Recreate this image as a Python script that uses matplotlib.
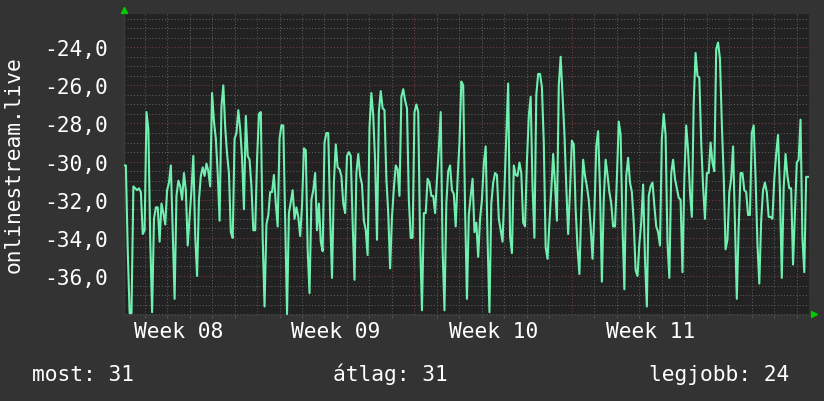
import numpy as np
import matplotlib
matplotlib.use("Agg")
import matplotlib.pyplot as plt
from matplotlib.ticker import FixedLocator, MultipleLocator

# ---- data (signal level, 2-hour samples) ----
signal_db = [
    -30.2, -30.2, -34.7, -37.95, -37.95, -31.3, -31.4, -31.5, -31.4, -31.6,
    -33.8, -33.6, -27.4, -28.3, -34.1, -37.9, -33.0, -32.4, -32.4, -34.2,
    -32.2, -32.7, -33.3, -31.5, -31.1, -30.2, -33.6, -37.2, -31.8, -31.0,
    -31.3, -32.0, -30.6, -31.5, -34.4, -32.9, -31.5, -29.7, -33.9, -36.0,
    -32.0, -30.75, -30.3, -30.75, -30.1, -30.5, -31.3, -26.4, -27.9, -28.8,
    -30.6, -33.1, -27.1, -26.0, -28.2, -29.6, -30.6, -33.7, -34.0, -28.8,
    -28.5, -27.3, -28.3, -29.8, -32.5, -27.6, -29.7, -29.9, -31.3, -33.6,
    # week 09 region
    -33.6, -29.9, -27.5, -27.4, -34.0, -37.6, -33.3, -32.8, -31.6, -31.6,
    -30.7, -32.2, -33.4, -28.8, -28.1, -28.1, -33.2, -38.0, -32.7, -32.1,
    -31.5, -33.0, -32.4, -32.9, -33.9, -32.3, -29.3, -29.4, -34.6, -36.9,
    -32.0, -31.5, -30.6, -33.6, -32.2, -34.2, -34.7, -29.0, -28.5, -28.5,
    -32.9, -36.1, -31.1, -29.1, -30.3, -30.4, -30.75, -32.2, -32.7, -29.7,
    -29.5, -29.7, -33.2, -36.2, -30.6, -29.6, -30.75, -31.2, -33.1, -33.6,
    -34.9, -28.2, -26.4, -27.6, -30.0, -34.1, -27.4, -26.3, -27.2, -27.3,
    -30.9, -32.7,
    # week 10 region
    -35.6, -32.9, -31.4, -30.2, -30.4, -31.8, -26.6, -26.2, -26.8, -27.2,
    -32.0, -34.0, -34.0, -27.4, -27.0, -27.4, -34.1, -37.8, -32.7, -32.7,
    -30.9, -31.1, -31.8, -31.8, -32.7, -30.9, -29.3, -27.4, -34.6, -37.8,
    -32.2, -30.5, -30.2, -31.5, -31.7, -33.4, -30.9, -29.0, -25.8, -26.0,
    -32.5, -37.2, -32.8, -31.8, -30.9, -33.7, -33.2, -35.0, -33.0, -32.0,
    -30.1, -29.2, -34.1, -37.9, -32.2, -31.1, -30.6, -30.7, -33.0, -33.6,
    -34.2, -31.5, -28.6, -25.9, -33.9, -34.8, -30.2, -30.7, -30.75, -30.05,
    -30.6, -33.2,
    # week 11 region
    -33.4, -30.0, -27.6, -26.6, -31.3, -34.0, -26.5, -25.4, -25.4, -26.1,
    -29.0, -34.5, -35.1, -33.2, -31.5, -29.6, -31.2, -33.1, -26.0, -24.5,
    -26.5, -28.5, -31.3, -33.8, -31.5, -28.9, -29.1, -32.5, -34.5, -35.9,
    -32.5, -29.9, -30.75, -31.3, -32.0, -33.4, -35.1, -32.7, -29.2, -28.4,
    -31.5, -36.3, -32.0, -29.9, -30.7, -31.6, -32.2, -33.4, -33.4, -30.9,
    -27.9, -28.6, -33.4, -36.7, -30.75, -29.8, -31.1, -31.6, -33.2, -35.7,
    -36.0, -34.3, -33.2, -31.2, -35.1, -37.6, -31.8, -31.3, -31.1, -32.3,
    -33.4, -33.7, -34.4,
    # week 12 region
    -28.8, -27.5, -28.6, -34.2, -36.1, -30.6, -29.9, -30.9, -31.4, -31.9,
    -32.0, -35.8, -30.9, -28.1, -29.4, -31.6, -32.9, -26.9, -24.3, -25.5,
    -25.6, -29.0, -31.3, -33.0, -30.6, -30.6, -29.0, -30.05, -30.5, -24.1,
    -23.75, -24.6, -28.0, -30.75, -34.6, -34.1, -31.6, -30.9, -29.2, -33.3,
    -37.2, -33.4, -30.6, -30.6, -31.5, -31.6, -32.8, -32.8, -28.5, -28.1,
    -30.8, -34.3, -36.4, -33.1, -31.5, -31.1, -31.6, -32.9, -32.9, -33.0,
    -30.9, -29.6, -28.6, -31.5, -36.1, -31.4, -29.6, -30.75, -31.4, -31.4,
    -35.4, -32.7, -30.05, -29.9, -27.8, -34.0, -35.8, -30.8, -30.8,
]
step_hours = 2
start_day = 1.085          # days after the Monday that starts week 08
end_day = 31.545

week_labels = ["Week 08", "Week 09", "Week 10", "Week 11"]
ytick_values = [-36, -34, -32, -30, -28, -26, -24]
ytick_labels = ["-36,0", "-34,0", "-32,0", "-30,0", "-28,0", "-26,0", "-24,0"]
y_limits = (-38.02, -22.24)
y_label = "onlinestream.live"
stats_texts = ["most: 31", "átlag: 31", "legjobb: 24"]

# ---- style ----
BG = "#333333"
CANVAS = "#222222"
LINE = "#70f0b0"
MINOR = "#5e5e5e"
MAJOR = "#7c3c3c"
ARROW = "#00cc00"
FONT = "DejaVu Sans Mono"
FS = 15.3

plt.rcParams["font.family"] = [FONT, "DejaVu Sans"]

W, H = 824, 402
fig = plt.figure(figsize=(W / 100, H / 100), dpi=100, facecolor=BG)
ax = fig.add_axes([124 / W, 1 - 315.5 / H, 685 / W, 300.8 / H])
ax.set_facecolor(CANVAS)

t = start_day + np.arange(len(signal_db)) * step_hours / 24.0
ax.plot(t, signal_db, color=LINE, lw=1.5, zorder=3)

ax.set_xlim(start_day, end_day)
ax.set_ylim(*y_limits)

# y grid
ax.set_yticks(ytick_values)
ax.set_yticklabels(ytick_labels)
ax.yaxis.set_minor_locator(MultipleLocator(0.5))
ax.grid(axis="y", which="major", color=MAJOR, linestyle=(0, (1, 2)), lw=0.75)
ax.grid(axis="y", which="minor", color=MINOR, linestyle=(0, (1, 2)), lw=0.75)

# x grid: days (minor), week boundaries (major red)
week_starts = [7 * (i + 1) for i in range(len(week_labels))]
day_lines = [d for d in range(1, 32) if d % 7 != 0]
ax.xaxis.set_minor_locator(FixedLocator(day_lines))
ax.grid(axis="x", which="minor", color=MINOR, linestyle=(0, (1, 2)), lw=0.75)
for ws in week_starts:
    ax.axvline(ws, color=MAJOR, linestyle=(0, (1, 2)), lw=0.75, zorder=1)
ax.set_xticks([7 * i + 3.5 for i in range(len(week_labels))])
ax.set_xticklabels(week_labels)
ax.set_axisbelow(True)

ax.tick_params(axis="x", which="major", length=0, pad=4.8, labelsize=FS, labelcolor="white")
ax.tick_params(axis="x", which="minor", length=2, color=MINOR, direction="out")
ax.tick_params(axis="y", which="both", length=0, pad=11.5, labelsize=FS, labelcolor="white")

for s in ["top", "right"]:
    ax.spines[s].set_visible(False)
for s in ["left", "bottom"]:
    ax.spines[s].set_color("#3a3a3a")
    ax.spines[s].set_linewidth(1.0)

# axis arrows
ax.plot([0], [1.0116], marker="^", color=ARROW, ms=5, transform=ax.transAxes, clip_on=False)
ax.plot([1.0066], [0.003], marker=">", color=ARROW, ms=5, transform=ax.transAxes, clip_on=False)

# vertical label
fig.text(14 / W, 1 - 165 / H, y_label, rotation=90, ha="center", va="center",
         color="white", fontsize=FS)

# legend / stats line
stat_x = [32, 333, 649]
for x, s in zip(stat_x, stats_texts):
    fig.text(x / W, 1 - 381 / H, s, ha="left", va="baseline", color="white", fontsize=FS)

fig.savefig("out.png", dpi=100, facecolor=BG)
